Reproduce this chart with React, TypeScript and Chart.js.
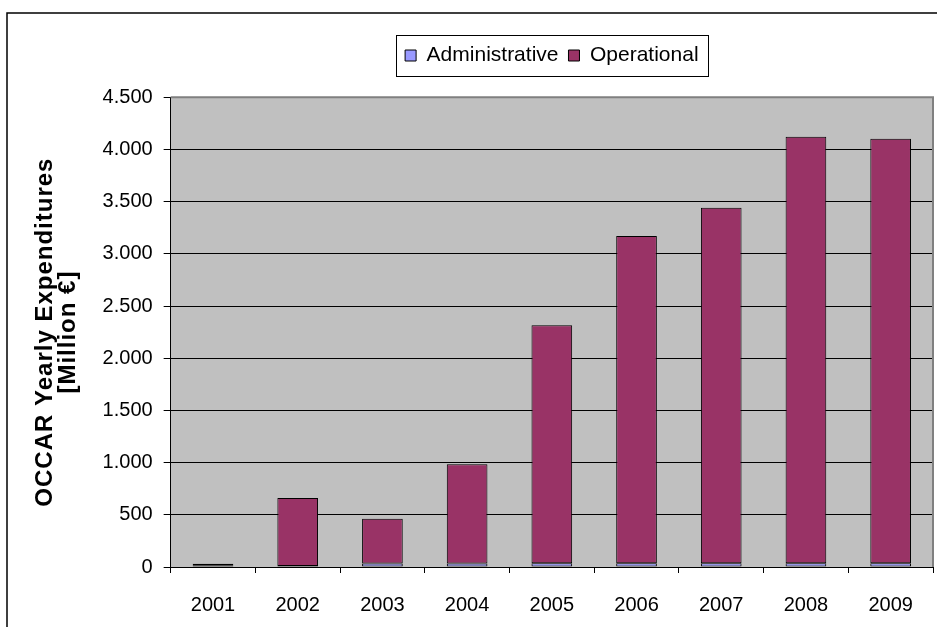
import React, { useEffect, useRef } from "react";
import { Chart, registerables } from "chart.js";

Chart.register(...registerables);

const years = ["2001", "2002", "2003", "2004", "2005", "2006", "2007", "2008", "2009"];
const administrative = [12, 10, 33, 34, 35, 35, 36, 36, 37];
const operational = [18, 650, 430, 950, 2280, 3135, 3405, 4085, 4065];
const yMax = 4500;
const yStep = 500;
const axisTitle = ["OCCAR Yearly Expenditures", "[Million €]"];

const FONT = "'Liberation Sans', Arial, sans-serif";

const fmt = (v: number) => {
  if (v >= 1000) {
    const t = Math.floor(v / 1000);
    const r = v % 1000;
    return t + "." + String(r).padStart(3, "0");
  }
  return String(v);
};

const decorPlugin = {
  id: "decor",
  afterLayout(chart: any) {
    const s = chart.scales && chart.scales.y;
    if (s && !s.__spaced) {
      const orig = s.drawTitle.bind(s);
      s.drawTitle = function () {
        const ctx = this.ctx;
        const prev = ctx.letterSpacing;
        ctx.letterSpacing = "1px";
        orig();
        ctx.letterSpacing = prev || "0px";
      };
      s.__spaced = true;
    }
  },
  beforeDraw(chart: any) {
    const { ctx, chartArea: a } = chart;
    ctx.save();
    ctx.fillStyle = "#C0C0C0";
    ctx.fillRect(a.left, a.top, a.right - a.left, a.bottom - a.top);
    ctx.restore();
  },
  afterDraw(chart: any) {
    const { ctx, chartArea: a } = chart;
    ctx.save();
    ctx.strokeStyle = "#808080";
    ctx.lineWidth = 2;
    ctx.beginPath();
    ctx.moveTo(a.left, a.top);
    ctx.lineTo(a.right, a.top);
    ctx.lineTo(a.right, a.bottom);
    ctx.stroke();

    const hb = chart.legend && chart.legend.legendHitBoxes;
    if (hb && hb.length) {
      const first = hb[0];
      const last = hb[hb.length - 1];
      const l = first.left - 9;
      const r = last.left + last.width + 10;
      const t = first.top - 10;
      const b = first.top + first.height + 10;
      ctx.strokeStyle = "#000";
      ctx.lineWidth = 1;
      ctx.strokeRect(Math.round(l) + 0.5, Math.round(t) + 0.5, Math.round(r - l), Math.round(b - t));
    }

    ctx.strokeStyle = "#000";
    ctx.lineWidth = 1.5;
    ctx.beginPath();
    ctx.moveTo(7, 640);
    ctx.lineTo(7, 13);
    ctx.lineTo(960, 13);
    ctx.stroke();
    ctx.restore();
  },
};

export default function App() {
  const ref = useRef<HTMLCanvasElement | null>(null);
  useEffect(() => {
    if (!ref.current) return;
    const chart = new Chart(ref.current, {
      type: "bar",
      data: {
        labels: years,
        datasets: [
          {
            label: "Administrative",
            data: administrative,
            backgroundColor: "#9999FF",
            borderColor: "#000000",
            borderWidth: 1,
            borderSkipped: false,
            barPercentage: 0.48,
            categoryPercentage: 1,
          },
          {
            label: "Operational",
            data: operational,
            backgroundColor: "#993366",
            borderColor: "#000000",
            borderWidth: 1,
            borderSkipped: false,
            barPercentage: 0.48,
            categoryPercentage: 1,
          },
        ],
      },
      options: {
        responsive: false,
        animation: false,
        devicePixelRatio: 1,
        layout: { padding: { top: 35, left: 0, right: 4, bottom: -10 } },
        plugins: {
          tooltip: { enabled: false },
          legend: {
            display: true,
            position: "top",
            fullSize: false,
            weight: 3000,
            labels: {
              boxWidth: 11,
              boxHeight: 11,
              padding: 10,
              color: "#000",
              font: { family: FONT, size: 21 },
            },
          },
          title: {
            display: true,
            text: " ",
            position: "top",
            weight: 500,
            fullSize: false,
            font: { size: 1 },
            padding: { top: 0, bottom: 20 },
          },
        },
        scales: {
          x: {
            stacked: true,
            grid: {
              offset: true,
              drawOnChartArea: false,
              drawTicks: true,
              tickLength: 6,
              tickColor: "#000",
              color: "#000",
            },
            border: { color: "#000", width: 1 },
            ticks: {
              color: "#000",
              padding: 20,
              maxRotation: 0,
              font: { family: FONT, size: 20 },
            },
          },
          y: {
            stacked: true,
            min: 0,
            max: yMax,
            grid: {
              color: "#000",
              tickColor: "#000",
              tickLength: 7,
              drawOnChartArea: true,
            },
            border: { color: "#000", width: 1 },
            ticks: {
              stepSize: yStep,
              color: "#000",
              padding: 11,
              font: { family: FONT, size: 20 },
              callback: (v: any) => fmt(Number(v)),
            },
            title: {
              display: true,
              text: axisTitle,
              color: "#000",
              font: { family: FONT, size: 24, weight: "bold", lineHeight: 0.95 },
              padding: { top: 34, bottom: 12 },
            },
          },
        },
      },
      plugins: [decorPlugin],
    } as any);
    return () => chart.destroy();
  }, []);

  return (
    <div style={{ position: "absolute", left: 0, top: 0, width: 937, height: 627, overflow: "hidden", background: "#fff" }}>
      <canvas ref={ref} width={937} height={627} style={{ display: "block", width: 937, height: 627 }} />
    </div>
  );
}
